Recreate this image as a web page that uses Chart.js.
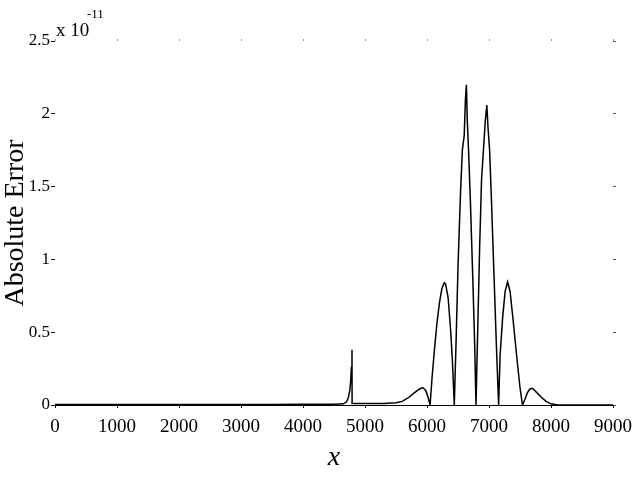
<!DOCTYPE html>
<html>
<head>
<meta charset="utf-8">
<script src="https://cdn.jsdelivr.net/npm/chart.js@4/dist/chart.umd.min.js"></script>
<style>
  html, body { margin: 0; padding: 0; background: #fff; }
  #wrap { width: 640px; height: 478px; }
</style>
</head>
<body>
<div id="wrap"><canvas id="chartErr"></canvas></div>
<script>
// x positions and absolute error (in units of 1e-11)
const xs = [
  0, 500, 1000, 1500, 2000, 2500, 3000, 3500, 4000, 4500, 4650,
  4700, 4730, 4755, 4770, 4780, 4790, 4792, 4800,
  5000, 5300, 5500, 5600, 5700, 5800, 5880, 5930, 5980, 6020, 6050,
  6080, 6120, 6160, 6200, 6240, 6280, 6300, 6340, 6380, 6410, 6440,
  6470, 6500, 6540, 6570, 6600, 6620, 6635, 6650, 6670, 6700, 6740, 6770, 6790,
  6820, 6850, 6880, 6910, 6940, 6965, 6985, 7010, 7040, 7080, 7120, 7155,
  7180, 7220, 7260, 7300, 7340, 7380, 7420, 7460, 7500, 7540,
  7580, 7620, 7660, 7700, 7760, 7840, 7920, 8000, 8110, 9000
];
const errs = [
  0.004, 0.003, 0.004, 0.003, 0.004, 0.003, 0.004, 0.004, 0.005, 0.005, 0.008,
  0.02, 0.05, 0.10, 0.17, 0.26, 0.38, 0.01, 0.01,
  0.01, 0.01, 0.015, 0.025, 0.05, 0.085, 0.11, 0.12, 0.10, 0.05, 0.0,
  0.18, 0.38, 0.56, 0.70, 0.80, 0.84, 0.83, 0.74, 0.52, 0.30, 0.0,
  0.45, 0.95, 1.45, 1.75, 1.85, 2.10, 2.20, 1.95, 1.75, 1.40, 0.85, 0.40, 0.0,
  0.55, 1.10, 1.55, 1.75, 1.95, 2.06, 1.90, 1.75, 1.40, 0.90, 0.40, 0.0,
  0.35, 0.60, 0.78, 0.845, 0.78, 0.62, 0.45, 0.28, 0.12, 0.0,
  0.04, 0.085, 0.11, 0.115, 0.09, 0.055, 0.025, 0.008, 0.0, 0.0
];
const xTicks = [0, 1000, 2000, 3000, 4000, 5000, 6000, 7000, 8000, 9000];
const yTicks = [0, 0.5, 1, 1.5, 2, 2.5];
const yTickLabels = ["0", "0.5", "1", "1.5", "2", "2.5"];

const serif = "'Liberation Serif', 'Times New Roman', serif";

// y title and the "x 10^-11" multiplier above the y axis
const extraText = {
  id: "extraText",
  afterDraw(chart) {
    const ctx = chart.ctx;
    const area = chart.chartArea;
    const top = chart.scales.y.getPixelForValue(2.5);
    ctx.save();
    ctx.fillStyle = "#000";
    ctx.textAlign = "left";
    ctx.textBaseline = "alphabetic";
    ctx.font = "19px " + serif;
    ctx.fillText("x 10", area.left + 1, top - 5);
    ctx.font = "13px " + serif;
    ctx.fillText("-11", area.left + 32, top - 23);

    ctx.translate(16, (area.top + area.bottom) / 2);
    ctx.rotate(-Math.PI / 2);
    ctx.textAlign = "center";
    ctx.textBaseline = "middle";
    ctx.font = "28px " + serif;
    ctx.fillText("Absolute Error", 0, 0);
    ctx.restore();
  }
};

new Chart("chartErr", {
  type: "line",
  data: {
    datasets: [
      {
        label: "",
        data: xs.map((x, i) => ({ x: x, y: errs[i] })),
        borderColor: "#000",
        borderWidth: 1.5,
        pointRadius: 0,
        tension: 0,
        fill: false,
      },
    ],
  },
  options: {
    responsive: true,
    maintainAspectRatio: false,
    animation: false,
    layout: { padding: 0 },
    plugins: {
      legend: { display: false },
      tooltip: { enabled: false },
    },
    scales: {
      x: {
        type: "linear",
        min: 0,
        max: 9000,
        afterBuildTicks: (s) => { s.ticks = xTicks.map((v) => ({ value: v })); },
        afterFit: (s) => { s.height = 73; },
        grid: { drawOnChartArea: false, color: "#000", tickLength: 3 },
        border: { display: true, color: "#000", width: 1 },
        ticks: {
          color: "#000",
          padding: 8,
          maxRotation: 0,
          font: { family: serif, size: 19 },
          callback: (v) => String(v),
        },
        title: {
          display: true,
          text: "x",
          color: "#000",
          padding: { top: 2 },
          font: { family: serif, size: 28, style: "italic" },
        },
      },
      x2: {
        type: "linear",
        position: "top",
        min: 0,
        max: 9000,
        afterBuildTicks: (s) => { s.ticks = xTicks.map((v) => ({ value: v })); },
        afterFit: (s) => { s.height = 41; },
        grid: { drawOnChartArea: false, color: "#999", tickLength: 2 },
        border: { display: false },
        ticks: { display: false },
      },
      y: {
        min: 0,
        max: 2.5,
        afterBuildTicks: (s) => { s.ticks = yTicks.map((v) => ({ value: v })); },
        afterFit: (s) => { s.width = 55; },
        grid: { drawOnChartArea: false, color: "#000", tickLength: 4 },
        border: { display: false },
        ticks: {
          color: "#000",
          padding: 1,
          font: { family: serif, size: 17 },
          callback: (v) => yTickLabels[yTicks.indexOf(v)],
        },
      },
      y2: {
        position: "right",
        min: 0,
        max: 2.5,
        afterBuildTicks: (s) => { s.ticks = yTicks.map((v) => ({ value: v })); },
        afterFit: (s) => { s.width = 23; },
        grid: { drawOnChartArea: false, color: "#555", tickLength: 3 },
        border: { display: false },
        ticks: { display: false },
      },
    },
  },
  plugins: [extraText],
});
</script>
</body>
</html>
